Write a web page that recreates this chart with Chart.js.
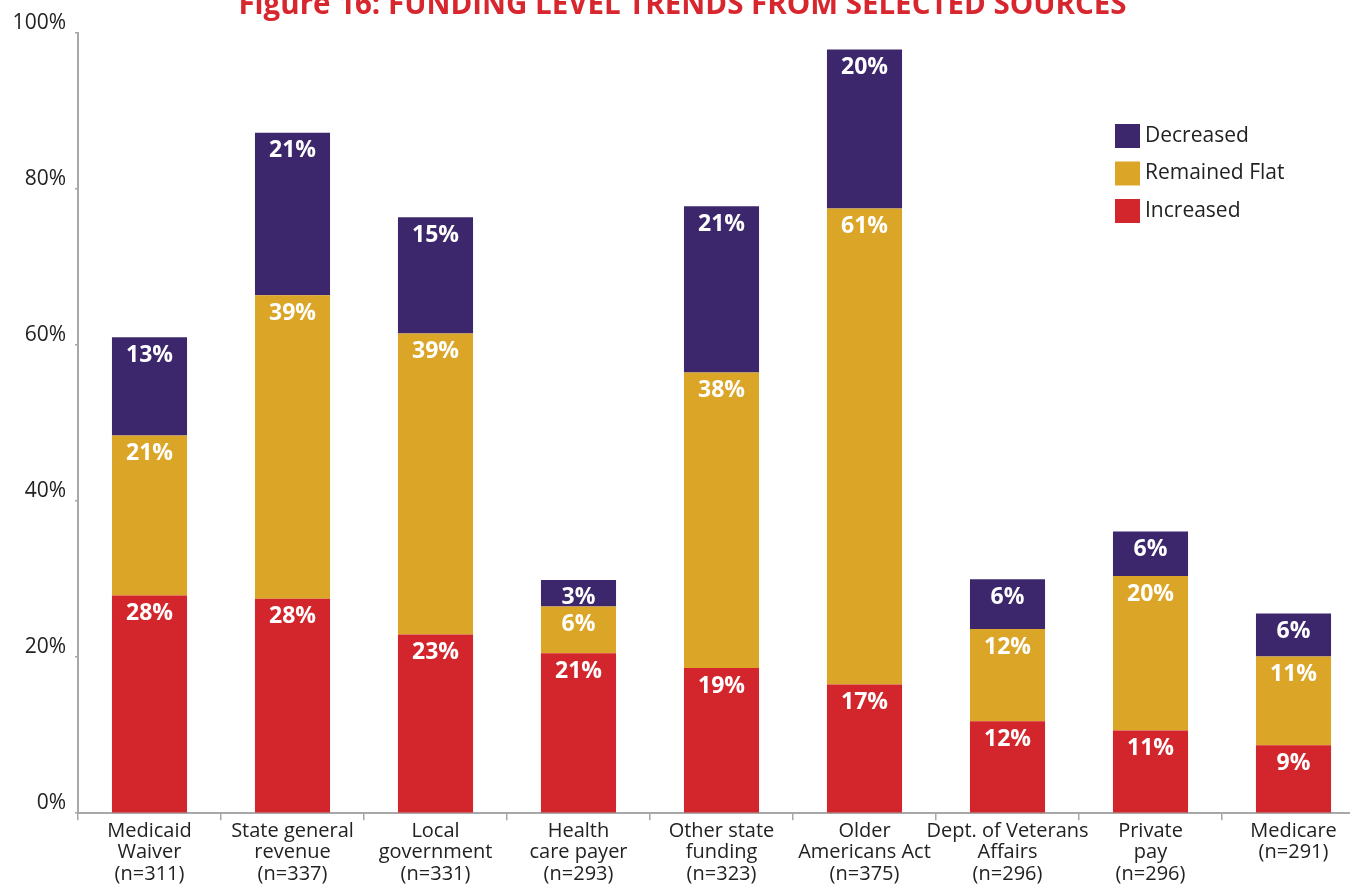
<!DOCTYPE html>
<html>
<head>
<meta charset="utf-8">
<title>Figure 16: Funding level trends from selected sources</title>
<script src="https://cdn.jsdelivr.net/npm/chart.js@4.4.1/dist/chart.umd.min.js"></script>
<style>
  html, body { margin: 0; padding: 0; background: #fff; overflow: hidden; width: 1350px; height: 885px; }
  #wrap { position: relative; width: 1350px; height: 885px; overflow: hidden; }
  /* canvas sits a little above the page so the title is clipped like the original */
  #chart { position: absolute; left: 0; top: -10px; }
</style>
</head>
<body>
<div id="wrap">
  <canvas id="chart" width="1365" height="895"></canvas>
</div>
<script>
  /* ── data ── */
  const sources = [
    ['Medicaid', 'Waiver', '(n=311)'],
    ['State general', 'revenue', '(n=337)'],
    ['Local', 'government', '(n=331)'],
    ['Health', 'care payer', '(n=293)'],
    ['Other state', 'funding', '(n=323)'],
    ['Older', 'Americans Act', '(n=375)'],
    ['Dept. of Veterans', 'Affairs', '(n=296)'],
    ['Private', 'pay', '(n=296)'],
    ['Medicare', '(n=291)']
  ];
  const increased    = [27.9, 27.5, 22.9, 20.5, 18.6, 16.5, 11.8, 10.6, 8.7];
  const remainedFlat = [20.5, 38.9, 38.6, 6.0, 37.9, 61.0, 11.8, 19.8, 11.4];
  const decreased    = [12.6, 20.8, 14.9, 3.4, 21.3, 20.4, 6.4, 5.7, 5.5];
  const yTicks = [0, 20, 40, 60, 80, 100];

  const RED = '#D3262C';
  const GOLD = '#DBA628';
  const PURPLE = '#3D276C';
  const AXIS = '#A8A8A8';
  const FONT = "'Open Sans', 'Noto Sans', sans-serif";

  /* white % labels near the top of each segment */
  const segmentLabels = {
    id: 'segmentLabels',
    afterDatasetsDraw(chart) {
      const ctx = chart.ctx;
      ctx.save();
      ctx.fillStyle = '#fff';
      ctx.font = 'bold 23px ' + FONT;
      ctx.textAlign = 'center';
      ctx.textBaseline = 'middle';
      chart.data.datasets.forEach((ds, i) => {
        chart.getDatasetMeta(i).data.forEach((bar, j) => {
          ctx.fillText(Math.round(ds.data[j]) + '%', bar.x, bar.y + 18);
        });
      });
      ctx.restore();
    }
  };

  /* legend box inside the plot, top right, Decreased first */
  const insideLegend = {
    id: 'insideLegend',
    afterDraw(chart, args, opts) {
      const ctx = chart.ctx;
      const items = chart.data.datasets.slice().reverse();
      ctx.save();
      ctx.font = '21px ' + FONT;
      ctx.textAlign = 'left';
      ctx.textBaseline = 'middle';
      items.forEach((ds, k) => {
        const cy = opts.y + k * opts.gap;
        ctx.fillStyle = ds.backgroundColor;
        ctx.fillRect(opts.x, cy - 12, 25, 24);
        ctx.fillStyle = '#222';
        ctx.fillText(ds.label, opts.x + 30, cy);
      });
      ctx.restore();
    }
  };

  new Chart(document.getElementById('chart'), {
    type: 'bar',
    data: {
      labels: sources,
      datasets: [
        { label: 'Increased', data: increased, backgroundColor: RED },
        { label: 'Remained Flat', data: remainedFlat, backgroundColor: GOLD },
        { label: 'Decreased', data: decreased, backgroundColor: PURPLE }
      ]
    },
    options: {
      responsive: false,
      animation: false,
      devicePixelRatio: 1,
      layout: { padding: 0 },
      datasets: {
        bar: { categoryPercentage: 1, barPercentage: 0.525 }
      },
      plugins: {
        legend: { display: false },
        tooltip: { enabled: false },
        title: {
          display: true,
          text: 'Figure 16: FUNDING LEVEL TRENDS FROM SELECTED SOURCES',
          color: '#D7262E',
          font: { family: FONT, size: 29.5, weight: 'bold', lineHeight: 1 },
          padding: { top: 1, bottom: 12.5 }
        },
        insideLegend: { x: 1115, y: 146, gap: 37.5 }
      },
      scales: {
        x: {
          stacked: true,
          border: { color: AXIS, width: 2 },
          grid: { display: true, drawOnChartArea: false, drawTicks: true, tickLength: 7, color: AXIS, lineWidth: 1.5 },
          ticks: {
            color: '#222',
            padding: 0,
            maxRotation: 0,
            autoSkip: false,
            font: { family: FONT, size: 20, lineHeight: 1.08 }
          }
        },
        y: {
          stacked: true,
          min: 0,
          max: 100,
          afterFit: s => { s.width = 78; },
          afterBuildTicks: s => { s.ticks = yTicks.map(v => ({ value: v })); },
          border: { color: AXIS, width: 2 },
          grid: { display: true, drawOnChartArea: false, drawTicks: true, tickLength: 3, color: AXIS, lineWidth: 1.5 },
          ticks: {
            color: '#222',
            padding: 9,
            labelOffset: -10,
            callback: v => v + '%',
            font: { family: FONT, size: 21 }
          }
        }
      }
    },
    plugins: [segmentLabels, insideLegend]
  });
</script>
</body>
</html>
